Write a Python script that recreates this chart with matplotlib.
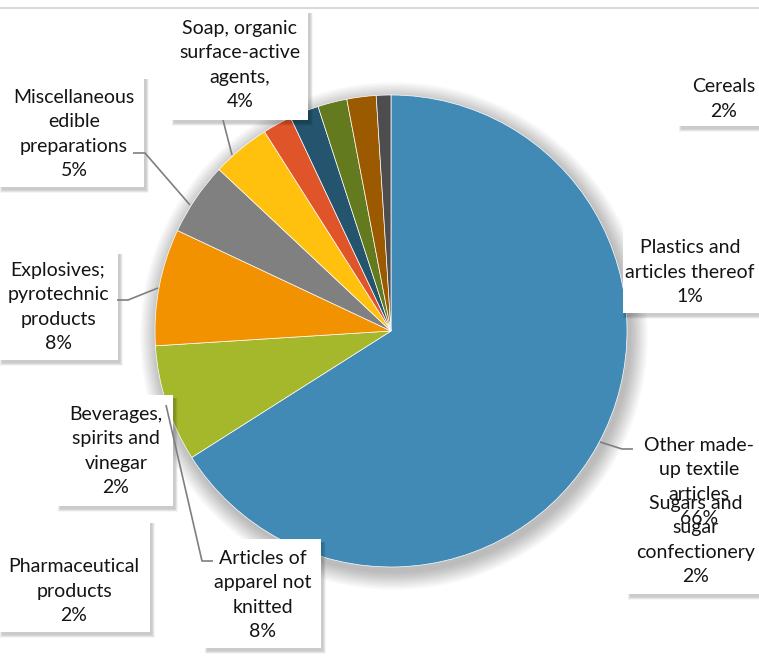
import matplotlib
matplotlib.use("Agg")
import matplotlib.pyplot as plt
from matplotlib.patches import Rectangle, Circle

# ---- data ----
categories = [
    "Other made-\nup textile\narticles",
    "Articles of\napparel not\nknitted",
    "Explosives;\npyrotechnic\nproducts",
    "Miscellaneous\nedible\npreparations",
    "Soap, organic\nsurface-active\nagents,",
    "Beverages,\nspirits and\nvinegar",
    "Pharmaceutical\nproducts",
    "Sugars and\nsugar\nconfectionery",
    "Cereals",
    "Plastics and\narticles thereof",
]
values = [66, 8, 8, 5, 4, 2, 2, 2, 2, 1]
colors = ["#418AB6", "#A5B72B", "#F39200", "#808080", "#FFC00E",
          "#E0542A", "#25546E", "#637A1E", "#9B5A00", "#4D4D4D"]

# ---- layout (pixel coords, y from top) ----
W, H = 759, 661
CX, CY, R = 391, 331, 236
# label box: (left, top, right, bottom, text center x, text center y)
boxes = [
    (632, 425, 759, 537, 699, 482),
    (205, 539, 321, 648, 263, 595),
    (0, 251, 118, 360, 58, 307),
    (0, 76, 144, 187, 74, 134),
    (172, 10, 308, 120, 240, 65),
    (58, 395, 173, 506, 116, 451),
    (0, 520, 150, 632, 74, 591),
    (628, 482, 759, 594, 696, 540),
    (679, 67, 759, 126, 724, 99),
    (623, 229, 759, 313, 690, 272),
]
leaders = {
    0: [(633, 449), (622, 449), (600, 442)],
    1: [(213, 561), (202, 561), (166, 405)],
    2: [(117, 300), (128, 300), (158, 288)],
    3: [(133, 153), (145, 153), (190, 205)],
    4: [(223, 120), (232, 155)],
}

def fy(y):
    return H - y

fig = plt.figure(figsize=(W / 100, H / 100), dpi=100)
ax = fig.add_axes([0, 0, 1, 1])

# pie shadow
for k in range(14):
    ax.add_patch(Circle((CX + 3, fy(CY + 5)), R + 1 + k * 1.3,
                        facecolor="black", edgecolor="none", alpha=0.02, zorder=1))

ax.pie(values, colors=colors, startangle=90, counterclock=False,
       center=(CX, fy(CY)), radius=R, frame=False,
       wedgeprops=dict(edgecolor="white", linewidth=0.5, zorder=2))

# boxes with shadows
for (l, t, r, b, tx, ty) in boxes:
    for k in range(6):
        ax.add_patch(Rectangle((l + 2 - k * 0.5, fy(b + 3 + k * 0.6)),
                               (r - l) + k, (b - t) + k * 0.6,
                               facecolor="black", edgecolor="none", alpha=0.035, zorder=3))
    ax.add_patch(Rectangle((l, fy(b)), r - l, b - t, facecolor="white",
                           edgecolor="none", zorder=4))

# leader lines
for i, pts in leaders.items():
    ax.plot([p[0] for p in pts], [fy(p[1]) for p in pts], color="#7F7F7F",
            lw=1.2, zorder=5, solid_capstyle="butt")

# texts
for i, (cat, v) in enumerate(zip(categories, values)):
    l, t, r, b, tx, ty = boxes[i]
    ax.text(tx, fy(ty), f"{cat}\n{v}%", ha="center", va="center",
            fontsize=14, family="Lato", color="#141414",
            linespacing=1.52, zorder=6)

# top border
ax.plot([0, W], [fy(8), fy(8)], color="#D9D9D9", lw=1.5, zorder=0)

ax.set_xlim(0, W)
ax.set_ylim(0, H)
ax.set_aspect("auto")
ax.axis("off")
fig.savefig("out.png", dpi=100)
